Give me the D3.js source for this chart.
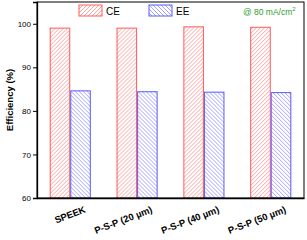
<!DOCTYPE html>
<html><head><meta charset="utf-8">
<script src="https://cdn.jsdelivr.net/npm/d3@7"></script>
<style>body{margin:0;background:#fff}svg{display:block}text{font-family:"Liberation Sans",Arial,sans-serif}</style>
</head><body><svg id="c" width="307" height="240"></svg>
<script>
const categories = ["SPEEK", "P-S-P (20 µm)", "P-S-P (40 µm)", "P-S-P (50 µm)"];
const series = ["CE", "EE"];
const ceValues = [99.0, 99.0, 99.3, 99.2];
const eeValues = [84.6, 84.4, 84.3, 84.2];
const yTicks = [60, 70, 80, 90, 100];

const svg = d3.select("#c");
const m = {l: 37, r: 3, t: 2, b: 42};
const W = 307, H = 240;
const iw = W - m.l - m.r, ih = H - m.t - m.b;
const colors = {CE: {stroke: "#ff5a5a", hatch: "#ff8c8c"}, EE: {stroke: "#5a5aff", hatch: "#8c8cff"}};

const defs = svg.append("defs");
function pat(id, c, dir) {
  const p = defs.append("pattern").attr("id", id).attr("patternUnits", "userSpaceOnUse")
    .attr("width", 4).attr("height", 4);
  if (dir > 0) {
    p.append("path").attr("d", "M-1,1 l2,-2 M0,4 l4,-4 M3,5 l2,-2");
  } else {
    p.append("path").attr("d", "M-1,3 l2,2 M0,0 l4,4 M3,-1 l2,2");
  }
  p.select("path").attr("stroke", c).attr("stroke-width", 0.8).attr("fill", "none");
}
pat("hCE", colors.CE.hatch, 1);
pat("hEE", colors.EE.hatch, -1);

const g = svg.append("g").attr("transform", `translate(${m.l},${m.t})`);
const x = d3.scaleBand().domain(categories).range([0, iw]).paddingInner(0.385).paddingOuter(0.19);
const xs = d3.scaleBand().domain(series).range([0, x.bandwidth()]);
const y = d3.scaleLinear().domain([60, 105]).range([ih, 0]);

const data = categories.map((c, i) => ({c, CE: ceValues[i], EE: eeValues[i]}));
const grp = g.selectAll(".grp").data(data).enter().append("g")
  .attr("transform", d => `translate(${x(d.c)},0)`);
grp.selectAll("rect").data(d => series.map(s => ({s, v: d[s]}))).enter().append("rect")
  .attr("x", d => xs(d.s) + 0.5).attr("width", xs.bandwidth() - 1)
  .attr("y", d => y(d.v)).attr("height", d => ih - y(d.v))
  .attr("fill", d => `url(#h${d.s})`).attr("stroke", d => colors[d.s].stroke).attr("stroke-width", 1);

// frame
g.append("rect").attr("x", 0).attr("y", 0).attr("width", iw).attr("height", ih)
  .attr("fill", "none").attr("stroke", "#000").attr("stroke-width", 1);

const ya = g.append("g").call(d3.axisLeft(y).tickValues(yTicks).tickSize(4).tickPadding(2));
ya.select(".domain").attr("stroke-width", 1.3);
ya.selectAll("text").attr("font-size", 8).attr("fill", "#000");

const xa = g.append("g").attr("transform", `translate(0,${ih})`)
  .call(d3.axisBottom(x).tickSize(0).tickFormat(""));
xa.select(".domain").attr("stroke-width", 1.3);
xa.selectAll(".tick").append("text")
  .attr("text-anchor", "end").attr("font-size", 9.5).attr("font-weight", "bold").attr("fill", "#000")
  .attr("transform", "translate(16,14) rotate(-21)")
  .text(d => d);

svg.append("text").attr("transform", `translate(13,${m.t + ih / 2}) rotate(-90)`)
  .attr("text-anchor", "middle").attr("font-size", 9.5).attr("font-weight", "bold").text("Efficiency (%)");

// legend
const leg = svg.append("g");
const legPos = [{s: "CE", x: 79}, {s: "EE", x: 149}];
legPos.forEach(l => {
  leg.append("rect").attr("x", l.x).attr("y", 5).attr("width", 23).attr("height", 11)
    .attr("fill", `url(#h${l.s})`).attr("stroke", colors[l.s].stroke).attr("stroke-width", 1);
  leg.append("text").attr("x", l.x + 27).attr("y", 15).attr("font-size", 10).text(l.s);
});
const note = svg.append("text").attr("x", 243).attr("y", 15).attr("font-size", 8.5).attr("fill", "#2ca02c");
note.append("tspan").text("@ 80 mA/cm");
note.append("tspan").attr("font-size", 6).attr("dy", -4).text("2");
</script></body></html>
